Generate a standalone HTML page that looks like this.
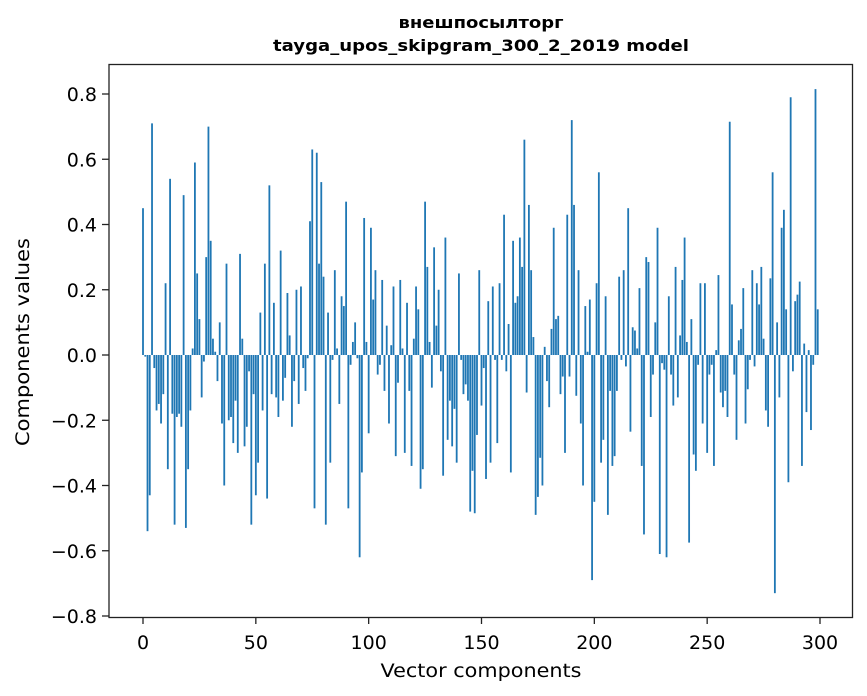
<!DOCTYPE html>
<html><head><meta charset="utf-8"><style>
html,body{margin:0;padding:0;background:#fff;}
svg{display:block;font-family:"DejaVu Sans","Liberation Sans",sans-serif;}
</style></head><body>
<svg id="chart" width="867" height="696" viewBox="0 0 867 696" xmlns="http://www.w3.org/2000/svg">
<rect width="867" height="696" fill="#fff"/>
<text x="481" y="28" text-anchor="middle" font-size="16" font-weight="bold" textLength="165" lengthAdjust="spacingAndGlyphs">внешпосылторг</text>
<text x="481" y="51" text-anchor="middle" font-size="16" font-weight="bold" textLength="416" lengthAdjust="spacingAndGlyphs">tayga_upos_skipgram_300_2_2019 model</text>
<g id="bars"></g>
<g id="xticks"></g>
<g id="yticks"></g>
<rect x="109" y="64.5" width="743.5" height="553" fill="none" stroke="#222" stroke-width="1.3"/>
<text x="481" y="677" text-anchor="middle" font-size="19" textLength="201" lengthAdjust="spacingAndGlyphs">Vector components</text>
<text transform="translate(29,342) rotate(-90)" text-anchor="middle" font-size="19" textLength="208" lengthAdjust="spacingAndGlyphs">Components values</text>
</svg>
<script>
const values = [
0.45,-0.005,-0.54,-0.43,0.71,-0.04,-0.17,-0.15,-0.21,-0.12,
0.22,-0.35,0.54,-0.18,-0.52,-0.19,-0.18,-0.22,0.49,-0.53,
-0.35,-0.17,0.02,0.59,0.25,0.11,-0.13,-0.02,0.30,0.70,
0.35,0.05,0.01,-0.08,0.10,-0.21,-0.40,0.28,-0.20,-0.19,
-0.27,-0.14,-0.30,0.31,0.05,-0.28,-0.22,-0.05,-0.52,-0.12,
-0.43,-0.33,0.13,-0.17,0.28,-0.44,0.52,-0.12,0.16,-0.13,
-0.19,0.32,-0.14,-0.07,0.19,0.06,-0.22,-0.08,0.20,-0.15,
0.21,-0.04,-0.11,-0.01,0.41,0.63,-0.47,0.62,0.28,0.53,
0.24,-0.52,0.13,-0.33,-0.015,0.26,0.02,-0.15,0.18,0.15,
0.47,-0.47,-0.03,0.04,0.10,-0.01,-0.62,-0.36,0.42,0.04,
-0.24,0.39,0.17,0.26,-0.06,-0.03,0.23,-0.11,0.09,-0.21,
0.03,0.21,-0.31,-0.085,0.23,0.02,-0.30,0.16,-0.11,-0.34,
0.05,0.21,0.14,-0.41,-0.35,0.47,0.27,0.04,-0.10,0.33,
0.09,0.20,-0.05,-0.37,0.36,-0.26,-0.14,-0.28,-0.165,-0.33,
0.25,-0.015,-0.12,-0.09,-0.14,-0.48,-0.355,-0.485,-0.245,0.26,
-0.155,-0.04,-0.38,0.165,-0.33,0.21,-0.015,-0.27,0.22,-0.015,
0.43,-0.05,0.095,-0.36,0.35,0.16,0.18,0.36,0.27,0.66,
-0.115,0.46,0.26,0.055,-0.49,-0.435,-0.315,-0.40,0.025,-0.08,
-0.16,0.08,0.39,0.11,0.12,-0.12,-0.066,-0.30,0.43,-0.066,
0.72,0.46,-0.125,0.26,-0.21,-0.40,0.15,0.01,0.17,-0.69,
-0.45,0.22,0.56,-0.33,-0.26,0.18,-0.49,-0.11,-0.34,-0.31,
-0.11,0.24,-0.015,0.26,-0.035,0.45,-0.235,0.085,0.075,0.02,
0.205,-0.34,-0.55,0.30,0.285,-0.19,-0.06,0.10,0.39,-0.61,
-0.025,-0.045,-0.62,0.18,-0.06,-0.155,0.27,-0.13,0.06,0.23,
0.36,0.04,-0.575,0.11,-0.305,-0.355,-0.03,0.22,-0.21,0.22,
-0.30,-0.06,-0.03,-0.34,0.015,0.245,-0.115,-0.16,-0.11,-0.19,
0.715,0.155,-0.06,-0.26,0.045,0.08,0.205,-0.21,-0.105,-0.015,
0.26,-0.035,0.22,0.155,0.27,0.05,-0.17,-0.22,0.235,0.56,
-0.73,0.10,-0.13,0.39,0.445,0.14,-0.39,0.79,-0.05,0.165,
0.185,0.225,-0.34,0.035,-0.175,0.015,-0.23,-0.03,0.815,0.14
];
const xTicks = [0,50,100,150,200,250,300];
const yTicks = [-0.8,-0.6,-0.4,-0.2,0.0,0.2,0.4,0.6,0.8];

const NS = "http://www.w3.org/2000/svg";
const X0 = 143, XS = 677/300;
const Y0 = 355, YS = 326.25;
function xScale(i){ return X0 + i*XS; }
function yScale(v){ return Y0 - v*YS; }

const barsG = document.getElementById('bars');
values.forEach((v,i)=>{
  const r = document.createElementNS(NS,'rect');
  
  
  const w = XS*0.8;
  const y1 = yScale(Math.max(v,0)), y2 = yScale(Math.min(v,0));
  r.setAttribute('x', xScale(i)-w/2);
  r.setAttribute('y', y1);
  r.setAttribute('width', w);
  r.setAttribute('height', Math.max(y2-y1,0.3));
  r.setAttribute('fill','#1f77b4');
  barsG.appendChild(r);
});

const xg = document.getElementById('xticks');
xTicks.forEach(t=>{
  const x = xScale(t);
  const l = document.createElementNS(NS,'line');
  
  
  l.setAttribute('x1',x); l.setAttribute('x2',x);
  l.setAttribute('y1',617); l.setAttribute('y2',624);
  l.setAttribute('stroke','#222'); l.setAttribute('stroke-width','1.3');
  xg.appendChild(l);
  const tx = document.createElementNS(NS,'text');
  
  
  tx.setAttribute('x',x); tx.setAttribute('y',649);
  tx.setAttribute('text-anchor','middle'); tx.setAttribute('font-size','19');
  tx.textContent = String(t);
  xg.appendChild(tx);
});

const yg = document.getElementById('yticks');
yTicks.forEach(t=>{
  const y = yScale(t);
  const l = document.createElementNS(NS,'line');
  
  
  l.setAttribute('x1',102); l.setAttribute('x2',109);
  l.setAttribute('y1',y); l.setAttribute('y2',y);
  l.setAttribute('stroke','#222'); l.setAttribute('stroke-width','1.3');
  yg.appendChild(l);
  const tx = document.createElementNS(NS,'text');
  
  
  tx.setAttribute('x',97); tx.setAttribute('y',y+7);
  tx.setAttribute('text-anchor','end'); tx.setAttribute('font-size','19');
  tx.textContent = (t<0?'\u2212':'') + Math.abs(t).toFixed(1);
  yg.appendChild(tx);
});
</script>
</body></html>
